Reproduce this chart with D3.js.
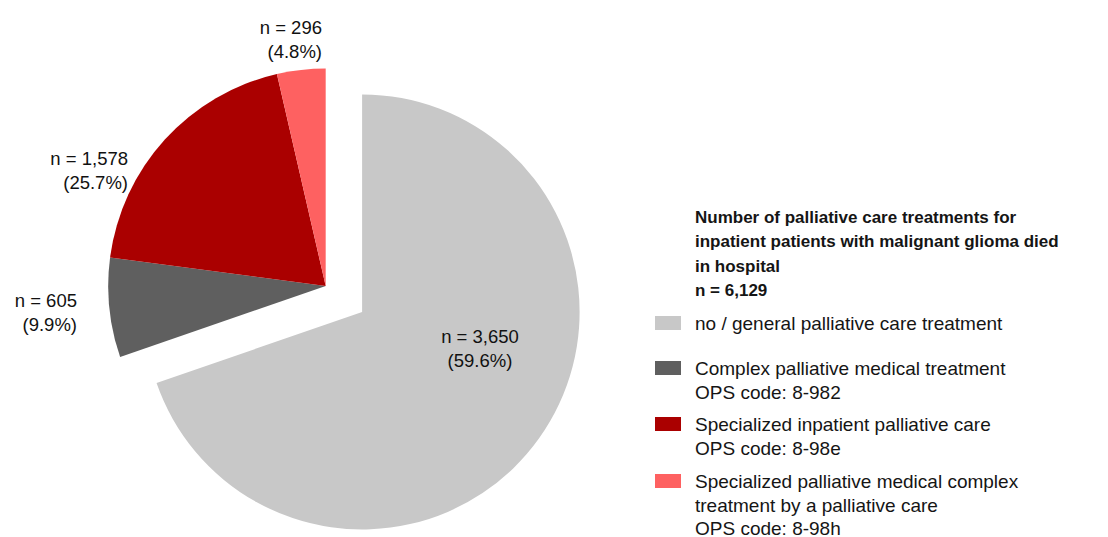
<!DOCTYPE html>
<html>
<head>
<meta charset="utf-8">
<script src="https://cdn.jsdelivr.net/npm/d3@7"></script>
<style>
  html, body { margin: 0; padding: 0; background: #fff; }
  svg { display: block; font-family: "Liberation Sans", Arial, Helvetica, sans-serif; }
</style>
</head>
<body>
<svg id="chart" width="1108" height="537"></svg>
<script>
// ---- data ----
const categories = [
  "no / general palliative care treatment",
  "Complex palliative medical treatment",
  "Specialized inpatient palliative care",
  "Specialized palliative medical complex treatment by a palliative care"
];
const opsCodes = ["", "8-982", "8-98e", "8-98h"];
const counts = [3650, 605, 1578, 296];
const percents = [59.6, 9.9, 25.7, 4.8];
// slice sizes (%) as they are drawn in the reference picture
const drawnShares = [69.7, 7.4, 19.3, 3.6];
const totalN = 6129;
const titleLines = [
  "Number of palliative care treatments for",
  "inpatient patients with malignant glioma died",
  "in hospital",
  "n = " + d3.format(",")(totalN)
];
const legendLines = [
  ["no / general palliative care treatment"],
  ["Complex palliative medical treatment", "OPS code: 8-982"],
  ["Specialized inpatient palliative care", "OPS code: 8-98e"],
  ["Specialized palliative medical complex", "treatment by a palliative care", "OPS code: 8-98h"]
];
const colors = ["#c8c8c8", "#5f5f5f", "#aa0000", "#fe6161"];

// ---- layout ----
const cx = 325.7, cy = 286, radius = 217.5, explode = 44.7;
const labelPos = [
  {x: 480, y: 336, anchor: "middle"},
  {x: 77,  y: 300, anchor: "end"},
  {x: 128, y: 158, anchor: "end"},
  {x: 322, y: 27,  anchor: "end"}
];
const lineH = 23.5;

const svg = d3.select("#chart");
const color = d3.scaleOrdinal().domain(d3.range(categories.length)).range(colors);

const pie = d3.pie().sort(null).value(d => d).startAngle(0).endAngle(2 * Math.PI);
const arcs = pie(drawnShares);
const arc = d3.arc().innerRadius(0).outerRadius(radius);

const g = svg.append("g").attr("transform", `translate(${cx},${cy})`);
g.selectAll("path.slice")
  .data(arcs)
  .join("path")
  .attr("class", "slice")
  .attr("d", arc)
  .attr("fill", (d, i) => color(i))
  .attr("transform", (d, i) => {
    if (i !== 0) return null;
    const a = (d.startAngle + d.endAngle) / 2;
    return `translate(${Math.sin(a) * explode},${-Math.cos(a) * explode})`;
  });

// slice labels
const lbl = svg.append("g").attr("font-size", 18.5).attr("fill", "#111");
labelPos.forEach((p, i) => {
  const t = lbl.append("text")
    .attr("text-anchor", p.anchor)
    .attr("dominant-baseline", "central");
  t.append("tspan").attr("x", p.x).attr("y", p.y).text("n = " + d3.format(",")(counts[i]));
  t.append("tspan").attr("x", p.x).attr("y", p.y + lineH).text("(" + percents[i].toFixed(1) + "%)");
});

// legend
const lx = 695, sx = 655, sw = 26, sh = 14;
const leg = svg.append("g").attr("fill", "#151515");
const title = leg.append("text").attr("font-size", 17).attr("font-weight", "bold").attr("dominant-baseline", "central");
titleLines.forEach((s, i) => {
  title.append("tspan").attr("x", lx).attr("y", 217 + i * 24.3).text(s);
});
const itemY = [323, 368, 424, 481];
legendLines.forEach((lines, i) => {
  leg.append("rect")
    .attr("x", sx).attr("y", itemY[i] - sh / 2)
    .attr("width", sw).attr("height", sh)
    .attr("fill", color(i));
  const t = leg.append("text").attr("font-size", 19).attr("dominant-baseline", "central");
  lines.forEach((s, j) => {
    t.append("tspan").attr("x", lx).attr("y", itemY[i] + j * 23.5).text(s);
  });
});
</script>
</body>
</html>
